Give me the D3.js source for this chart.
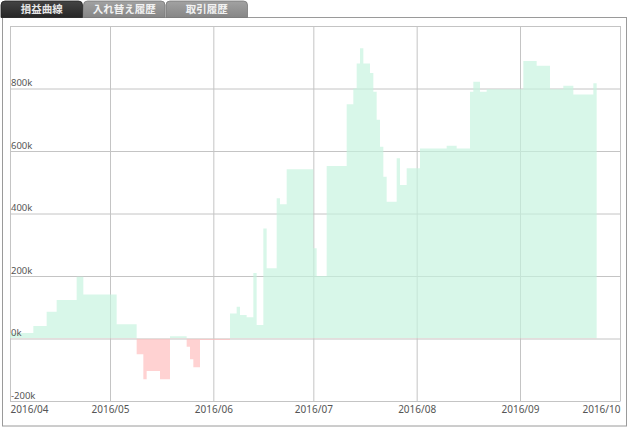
<!DOCTYPE html>
<html><head><meta charset="utf-8">
<script src="https://cdn.jsdelivr.net/npm/d3@7/dist/d3.min.js"></script>
<style>
html,body{margin:0;padding:0;background:#fff;}
svg{display:block;}
</style>
</head><body>
<div id="chart"></div>
<script>
// ---- data ----
const tabs = ["損益曲線", "入れ替え履歴", "取引履歴"];
const dates = ["2016-04-01","2016-04-08","2016-04-12","2016-04-15","2016-04-21","2016-04-23","2016-05-03",
"2016-05-09","2016-05-11","2016-05-12","2016-05-16","2016-05-19","2016-05-24","2016-05-25","2016-05-26","2016-05-28",
"2016-06-06","2016-06-08","2016-06-09","2016-06-11","2016-06-13","2016-06-14","2016-06-16","2016-06-17","2016-06-20",
"2016-06-21","2016-06-23","2016-07-01","2016-07-02","2016-07-05","2016-07-11","2016-07-13","2016-07-14","2016-07-15",
"2016-07-16","2016-07-18","2016-07-19","2016-07-20","2016-07-21","2016-07-22","2016-07-23","2016-07-26","2016-07-27",
"2016-07-29","2016-08-02","2016-08-10","2016-08-13","2016-08-17","2016-08-18","2016-08-20","2016-08-22","2016-09-02",
"2016-09-06","2016-09-10","2016-09-14","2016-09-17","2016-09-23","2016-09-24"];
const values = [18,40,86,123,198,141,46,
-50,-130,-104,-130,7,-26,-66,-92,-5,
80,102,75,68,210,43,352,225,449,
430,542,289,200,552,750,800,880,929,
880,850,790,700,614,518,438,577,491,
545,608,617,608,790,822,790,798,888,
873,798,809,781,817,817];
const monthTicks = ["2016-04-01","2016-05-01","2016-06-01","2016-07-01","2016-08-01","2016-09-01","2016-10-01"];
const yTicks = [-200,0,200,400,600,800,1000];
const yDomain = [-200,1000];

// ---- layout ----
const W = 630, H = 429;
const L = 10, R = 620, T = 26, B = 401;
const parse = d3.utcParse("%Y-%m-%d");
const data = dates.map((d,i)=>({date:parse(d), value:values[i]}));

const svg = d3.select("#chart").append("svg").attr("width",W).attr("height",H);

// panel
svg.append("rect").attr("x",2.5).attr("y",17.5).attr("width",624).attr("height",408.5)
  .attr("fill","#fff").attr("stroke","#9a9a9a");

// tabs
const defs = svg.append("defs");
const g1 = defs.append("linearGradient").attr("id","tabDark").attr("x1",0).attr("y1",0).attr("x2",0).attr("y2",1);
g1.append("stop").attr("offset","0%").attr("stop-color","#444");
g1.append("stop").attr("offset","100%").attr("stop-color","#262626");
const g2 = defs.append("linearGradient").attr("id","tabGray").attr("x1",0).attr("y1",0).attr("x2",0).attr("y2",1);
g2.append("stop").attr("offset","0%").attr("stop-color","#a2a2a2");
g2.append("stop").attr("offset","100%").attr("stop-color","#868686");

const tabX = [1, 83.5, 166];
const tabW = 81.5;
tabs.forEach((t,i)=>{
  const x0 = tabX[i], x1 = x0 + tabW, y0 = 1, y1 = 17.5, r = 4;
  svg.append("path")
    .attr("d",`M${x0},${y1} L${x0},${y0+r} Q${x0},${y0} ${x0+r},${y0} L${x1-r},${y0} Q${x1},${y0} ${x1},${y0+r} L${x1},${y1} Z`)
    .attr("fill", i===0 ? "url(#tabDark)" : "url(#tabGray)")
    .attr("stroke", i===0 ? "#222" : "#777").attr("stroke-width",0.8);
  svg.append("text").attr("x",x0+tabW/2).attr("y",13)
    .attr("text-anchor","middle")
    .attr("font-family","'Noto Sans CJK JP', sans-serif")
    .attr("font-size","10.5px")
    .attr("font-weight", "bold")
    .attr("fill", i===0 ? "#e6e6e6" : "#f2f2f2")
    .text(t);
});

// scales
const x = d3.scaleUtc().domain([parse(monthTicks[0]), parse(monthTicks[monthTicks.length-1])]).range([L,R]);
const y = d3.scaleLinear().domain(yDomain).range([B,T]);

// horizontal gridlines + labels
const yAxis = svg.append("g").attr("transform",`translate(${L},0)`)
  .call(d3.axisLeft(y).tickValues(yTicks).tickSize(-(R-L)).tickFormat(d => d===1000 ? "" : d+"k"));
yAxis.select(".domain").remove();
yAxis.selectAll(".tick line").attr("stroke","#c4c4c4");
yAxis.selectAll(".tick text")
  .attr("x",1).attr("dy",-3).attr("text-anchor","start")
  .attr("font-family","'Noto Sans', sans-serif").attr("font-size","9.5px").attr("fill","#555");

// vertical gridlines + labels
const xAxis = svg.append("g").attr("transform",`translate(0,${B})`)
  .call(d3.axisBottom(x).tickValues(monthTicks.map(parse)).tickSize(-(B-T)).tickPadding(5)
    .tickFormat(d3.utcFormat("%Y/%m")));
xAxis.select(".domain").attr("stroke","#ccd6eb");
xAxis.selectAll(".tick line").attr("stroke","#c4c4c4");
xAxis.selectAll(".tick text")
  .attr("font-family","'Noto Sans', sans-serif").attr("font-size","10px").attr("fill","#555")
  .attr("text-anchor",(d,i)=> i===0 ? "start" : (i===monthTicks.length-1 ? "end" : "middle"));

// area
const area = d3.area().curve(d3.curveStepAfter)
  .x(d=>x(d.date)).y0(y(0)).y1(d=>y(d.value));
defs.append("clipPath").attr("id","clipPos").append("rect")
  .attr("x",L).attr("y",T-50).attr("width",R-L).attr("height",y(0)-T+50);
defs.append("clipPath").attr("id","clipNeg").append("rect")
  .attr("x",L).attr("y",y(0)).attr("width",R-L).attr("height",B-y(0)+50);

const areaG = svg.insert("g", () => yAxis.node());
// draw area above gridlines but semi-transparent
const plot = svg.append("g");
plot.append("path").datum(data).attr("d",area).attr("clip-path","url(#clipPos)")
  .attr("fill","#c6f3de").attr("fill-opacity",0.68);
plot.append("path").datum(data).attr("d",area).attr("clip-path","url(#clipNeg)")
  .attr("fill","#ffbfbf").attr("fill-opacity",0.7);

// bring y labels on top
svg.node().appendChild(yAxis.node());
yAxis.selectAll(".tick line").remove();
svg.insert("g", () => plot.node()).attr("class","grid2")
  .selectAll("line").data(yTicks).join("line")
  .attr("x1",L).attr("x2",R).attr("y1",d=>y(d)+0.5).attr("y2",d=>y(d)+0.5)
  .attr("stroke","#c4c4c4");
</script>
</body></html>
